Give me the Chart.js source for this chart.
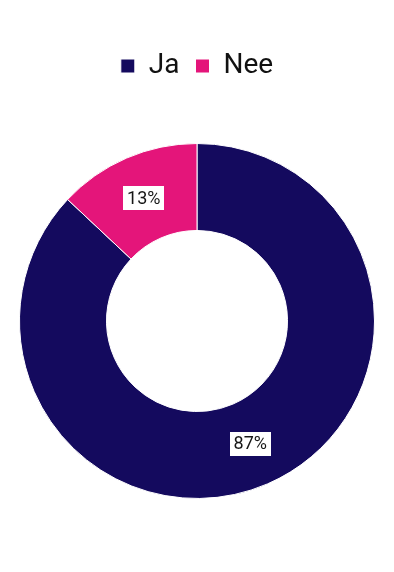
<!DOCTYPE html>
<html>
<head>
<meta charset="utf-8">
<script src="https://cdn.jsdelivr.net/npm/chart.js@4/dist/chart.umd.min.js"></script>
<style>
  html, body { margin: 0; padding: 0; background: #ffffff; }
  #wrap { position: relative; width: 394px; height: 572px; }
</style>
</head>
<body>
<div id="wrap"><canvas id="c"></canvas></div>
<script>
const categories = ["Ja", "Nee"];
const values = [87, 13];
const valueLabels = ["87%", "13%"];
const colors = ["#140a5e", "#e4157a"];

const FONT = 'Roboto, "Liberation Sans", sans-serif';

const labelPlugin = {
  id: 'boxLabels',
  afterDatasetsDraw(chart) {
    const ctx = chart.ctx;
    const meta = chart.getDatasetMeta(0);
    ctx.save();
    ctx.font = '18px ' + FONT;
    ctx.textAlign = 'center';
    ctx.textBaseline = 'middle';
    meta.data.forEach((arc, i) => {
      const p = arc.tooltipPosition();
      const text = valueLabels[i];
      const w = ctx.measureText(text).width + 8;
      const h = 24;
      ctx.fillStyle = '#ffffff';
      ctx.fillRect(Math.round(p.x - w / 2), Math.round(p.y - h / 2), Math.round(w), h);
      ctx.fillStyle = '#161616';
      ctx.fillText(text, p.x, p.y + 1);
    });
    ctx.restore();
  }
};

function draw() {
  new Chart(document.getElementById('c'), {
    type: 'doughnut',
    data: {
      labels: categories,
      datasets: [{
        data: values,
        backgroundColor: colors,
        borderColor: '#ffffff',
        borderWidth: 1,
        hoverOffset: 0
      }]
    },
    options: {
      responsive: true,
      maintainAspectRatio: false,
      animation: false,
      cutout: '51%',
      layout: { padding: { top: 36, left: 19, right: 19, bottom: 20 } },
      plugins: {
        legend: {
          position: 'top',
          labels: {
            boxWidth: 14,
            boxHeight: 14,
            padding: 16,
            color: '#111111',
            font: { family: FONT, size: 28 }
          }
        },
        tooltip: { enabled: false }
      }
    },
    plugins: [labelPlugin]
  });
}
if (document.fonts && document.fonts.load) {
  Promise.all([document.fonts.load('18px Roboto'), document.fonts.load('28px Roboto')]).then(draw, draw);
} else {
  draw();
}
</script>
</body>
</html>
